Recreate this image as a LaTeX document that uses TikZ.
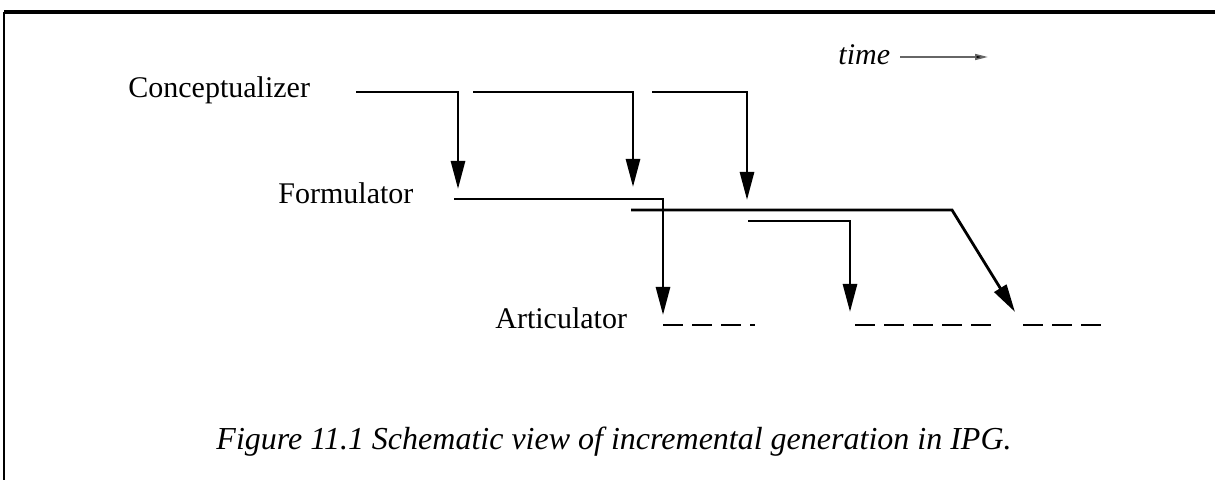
\documentclass[tikz,border=0pt]{standalone}
\usepackage{fontspec}
\setmainfont{Liberation Serif}
\usetikzlibrary{arrows.meta}
\begin{document}
\begin{tikzpicture}[x=0.5pt,y=-0.5pt,
  lbl/.style={inner sep=0pt,anchor=base west,font=\fontsize{15}{18}\selectfont},
  flow/.style={line width=1.4pt,line join=miter},
  flowarrow/.style={flow,-{Triangle[length=14pt,width=7pt]}},
  artic/.style={line width=1.4pt,dash pattern=on 10pt off 4.5pt}]
\useasboundingbox (0,0) rectangle (1215,480);
% frame
\draw[line width=2pt] (4,12) -- (1215,12);
\draw[line width=1pt] (4,12) -- (4,480);
% labels
\node[lbl] (conc) at (128,98) {Conceptualizer};
\node[lbl] (form) at (278,204) {Formulator};
\node[lbl] (artl) at (495,329) {Articulator};
\node[lbl] (time) at (838,65) {\itshape time};
\node[inner sep=0pt,anchor=base,font=\fontsize{16}{19}\selectfont\itshape] (cap) at (614,450)
  {Figure 11.1 Schematic view of incremental generation in IPG.};
% time arrow
\coordinate (ts) at (900,57);
\coordinate (te) at (988,57);
\draw[line width=0.8pt,draw=black!60,-{Triangle[length=6.5pt,width=3pt,fill=black]}] (ts) -- (te);
% conceptualizer
\coordinate (c1s) at (356,92); \coordinate (c1b) at (458,92); \coordinate (c1e) at (458,189);
\coordinate (c2s) at (473,92); \coordinate (c2b) at (633,92); \coordinate (c2e) at (633,187);
\coordinate (c3s) at (652,92); \coordinate (c3b) at (747,92); \coordinate (c3e) at (747,200);
\draw[flowarrow] (c1s) -- (c1b) -- (c1e);
\draw[flowarrow] (c2s) -- (c2b) -- (c2e);
\draw[flowarrow] (c3s) -- (c3b) -- (c3e);
% formulator
\coordinate (f1s) at (454,199); \coordinate (f1b) at (663,199); \coordinate (f1e) at (663,315);
\coordinate (f2s) at (631,210); \coordinate (f2b) at (952,210); \coordinate (f2e) at (1015,312);
\coordinate (f3s) at (748,221); \coordinate (f3b) at (850,221); \coordinate (f3e) at (850,312);
\draw[flowarrow] (f1s) -- (f1b) -- (f1e);
\draw[flowarrow] (f2s) -- (f2b) -- (f2e);
\draw[flowarrow] (f3s) -- (f3b) -- (f3e);
% articulator
\coordinate (a1s) at (663,325); \coordinate (a1e) at (755,325);
\coordinate (a2s) at (855,325); \coordinate (a2e) at (993,325);
\coordinate (a3s) at (1023,325); \coordinate (a3e) at (1103,325);
\draw[artic] (a1s) -- (a1e);
\draw[artic] (a2s) -- (a2e);
\draw[artic] (a3s) -- (a3e);
\end{tikzpicture}
\end{document}
